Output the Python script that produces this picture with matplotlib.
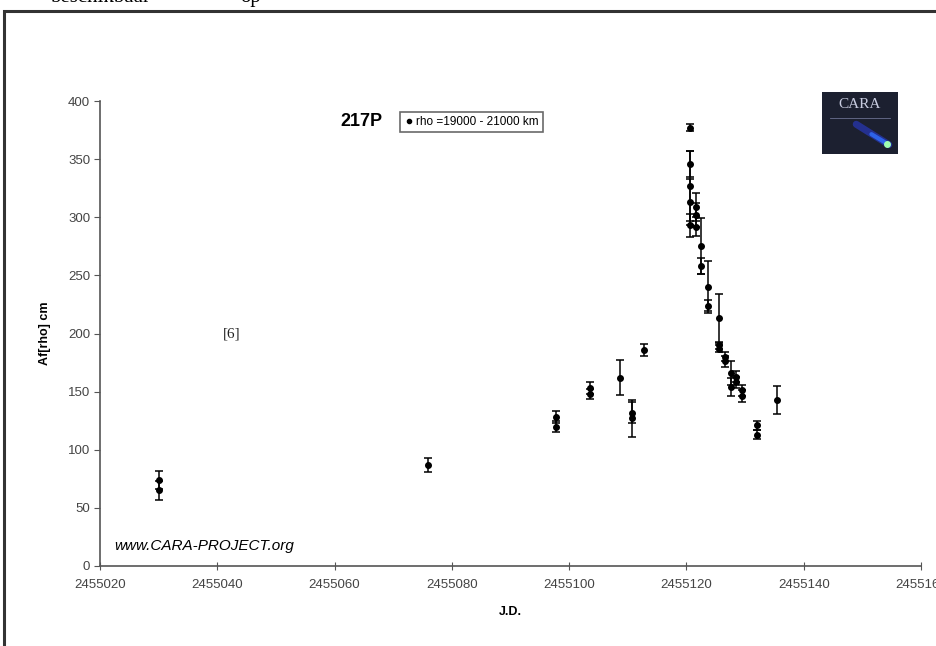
import numpy as np
import matplotlib
matplotlib.use("Agg")
import matplotlib.pyplot as plt
from matplotlib.patches import Rectangle
from matplotlib.lines import Line2D

# Julian dates, Af(rho) values and error bars
jd = [2455030.0, 2455030.0, 2455076.0, 2455097.7, 2455097.7, 2455103.6, 2455103.6,
      2455108.6, 2455110.7, 2455110.7, 2455112.7,
      2455120.6, 2455120.6, 2455120.6, 2455120.6, 2455120.6,
      2455121.6, 2455121.6, 2455121.6,
      2455122.5, 2455122.5, 2455123.6, 2455123.6,
      2455125.6, 2455125.6, 2455125.6, 2455126.6, 2455126.6,
      2455127.6, 2455127.6, 2455128.5, 2455128.5, 2455129.5, 2455129.5,
      2455132.1, 2455132.1, 2455135.5]
afrho = [74, 65, 87, 128, 120, 153, 148,
         162, 132, 127, 186,
         377, 346, 327, 313, 293,
         309, 302, 292,
         275, 258, 240, 224,
         213, 190, 187, 180, 176,
         166, 154, 163, 158, 151, 146,
         121, 113, 143]
err = [8, 8, 6, 5, 5, 5, 4,
       15, 9, 16, 5,
       3, 11, 30, 20, 10,
       12, 10, 8,
       24, 7, 22, 5,
       21, 3, 3, 4, 5,
       10, 8, 5, 5, 5, 5,
       4, 4, 12]

x_ticks = [2455020, 2455040, 2455060, 2455080, 2455100, 2455120, 2455140, 2455160]
y_ticks = [0, 50, 100, 150, 200, 250, 300, 350, 400]

fig = plt.figure(figsize=(9.36, 6.46), dpi=100)

# page remnants and the frame around the chart
fig.text(50 / 936, 1.004, "beschikbaar", family="Liberation Serif", fontsize=15,
         va="center", ha="left")
fig.text(240 / 936, 1.004, "op", family="Liberation Serif", fontsize=15,
         va="center", ha="left")
fig.patches.append(Rectangle((4 / 936, -0.05), 1.0, 1 - 11 / 646 + 0.05,
                             transform=fig.transFigure, fill=False,
                             edgecolor="#333333", linewidth=2.2))

ax = fig.add_axes([100 / 936, 1 - 566 / 646, 821 / 936, 465 / 646])
ax.errorbar(jd, afrho, yerr=err, fmt="o", color="black", ms=4,
            ecolor="black", elinewidth=1.1, capsize=3, capthick=1.1)

ax.set_xlim(2455020, 2455160)
ax.set_ylim(0, 400)
ax.set_xticks(x_ticks)
ax.set_xticklabels([str(t) for t in x_ticks])
ax.set_yticks(y_ticks)
for s in ["top", "right"]:
    ax.spines[s].set_visible(False)
for s in ["left", "bottom"]:
    ax.spines[s].set_color("#555555")
    ax.spines[s].set_linewidth(1.2)
ax.tick_params(axis="y", direction="out", length=4, color="#555555",
               labelsize=9.5, labelcolor="#444444", pad=3)
ax.tick_params(axis="x", direction="inout", length=6, color="#555555",
               labelsize=9.5, labelcolor="#444444", pad=6)
for lab in ax.get_xticklabels() + ax.get_yticklabels():
    lab.set_family("Liberation Sans")

ax.set_xlabel("J.D.", fontsize=9, fontweight="bold", family="Liberation Sans",
              labelpad=11)
ax.set_ylabel("Af[rho] cm", fontsize=9, fontweight="bold", family="Liberation Sans",
              labelpad=12)

ax.text(2455064.5, 382, "217P", fontsize=13, fontweight="bold",
        family="Liberation Sans", ha="center", va="center")
handle = Line2D([], [], marker="o", color="black", ls="none", ms=3)
leg = ax.legend([handle], ["rho =19000 - 21000 km"], loc="upper left",
                bbox_to_anchor=(300 / 821, 0.976), fontsize=8.5,
                frameon=True, fancybox=False, handletextpad=0.2,
                borderpad=0.35, handlelength=0.8, borderaxespad=0)
leg.get_frame().set_edgecolor("#444444")
leg.get_frame().set_linewidth(1.2)
for t in leg.get_texts():
    t.set_family("Liberation Sans")

ax.text(2455042.5, 200, "[6]", fontsize=11, family="Liberation Serif",
        ha="center", va="center", color="#222222")
ax.text(2455022.5, 17, "www.CARA-PROJECT.org", fontsize=11, style="italic",
        family="Liberation Sans", ha="left", va="center")

# CARA logo
logo = fig.add_axes([822 / 936, 1 - 154 / 646, 76 / 936, 62 / 646])
logo.set_facecolor("#1c2030")
logo.set_xlim(0, 1)
logo.set_ylim(0, 1)
logo.set_xticks([])
logo.set_yticks([])
for s in logo.spines.values():
    s.set_visible(False)
logo.text(0.5, 0.8, "CARA", color="#c8cce0", fontsize=11,
          family="Liberation Serif", ha="center", va="center")
logo.plot([0.1, 0.9], [0.58, 0.58], color="#6a7090", lw=0.6)
logo.plot([0.45, 0.88], [0.48, 0.15], color="#2a3cd0", lw=5, alpha=0.6,
          solid_capstyle="round")
logo.plot([0.65, 0.88], [0.32, 0.15], color="#3070ff", lw=3, alpha=0.8,
          solid_capstyle="round")
logo.plot([0.86], [0.16], "o", color="#9fffb0", ms=4)

fig.savefig("out.png", dpi=100)
